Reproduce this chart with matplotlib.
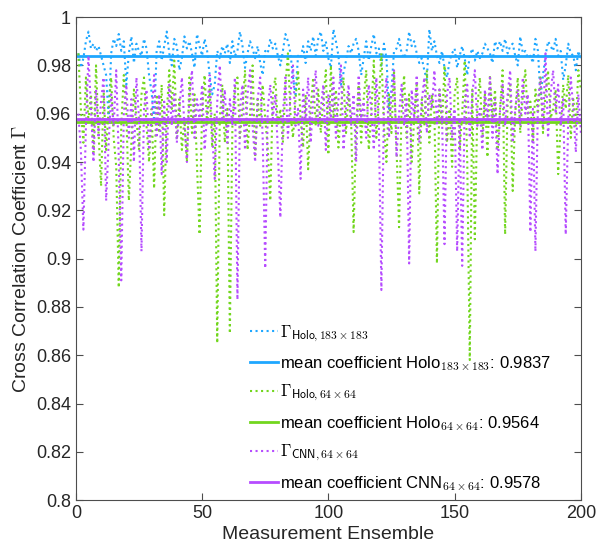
import matplotlib

matplotlib.use("Agg")
import matplotlib.pyplot as plt
import numpy as np
from matplotlib.ticker import FuncFormatter

plt.rcParams["font.family"] = ["Liberation Sans", "DejaVu Sans"]
plt.rcParams["mathtext.fontset"] = "cm"

holo_183 = [
    0.985, 0.979, 0.983, 0.990, 0.994, 0.987, 0.989, 0.986, 0.988, 0.984, 0.980, 0.976, 0.958, 0.985, 0.991, 0.988, 0.993, 0.986, 0.990, 0.972,
    0.985, 0.992, 0.981, 0.989, 0.986, 0.984, 0.991, 0.987, 0.976, 0.969, 0.957, 0.986, 0.990, 0.982, 0.988, 0.994, 0.985, 0.980, 0.991, 0.988,
    0.978, 0.983, 0.992, 0.987, 0.990, 0.985, 0.979, 0.993, 0.988, 0.984, 0.991, 0.986, 0.976, 0.968, 0.972, 0.986, 0.983, 0.988, 0.985, 0.989,
    0.981, 0.990, 0.984, 0.986, 0.994, 0.988, 0.979, 0.985, 0.990, 0.987, 0.983, 0.988, 0.981, 0.976, 0.986, 0.985, 0.991, 0.987, 0.989, 0.984,
    0.980, 0.986, 0.993, 0.990, 0.985, 0.975, 0.968, 0.984, 0.983, 0.988, 0.981, 0.990, 0.986, 0.992, 0.984, 0.991, 0.994, 0.986, 0.990, 0.983,
    0.979, 0.995, 0.990, 0.984, 0.972, 0.977, 0.982, 0.988, 0.985, 0.989, 0.991, 0.986, 0.976, 0.983, 0.990, 0.982, 0.988, 0.993, 0.985, 0.987,
    0.980, 0.989, 0.983, 0.962, 0.970, 0.986, 0.987, 0.991, 0.985, 0.983, 0.986, 0.994, 0.988, 0.990, 0.985, 0.981, 0.983, 0.978, 0.974, 0.995,
    0.986, 0.990, 0.984, 0.981, 0.986, 0.979, 0.975, 0.982, 0.985, 0.987, 0.979, 0.984, 0.988, 0.983, 0.976, 0.984, 0.987, 0.982, 0.986, 0.983,
    0.985, 0.989, 0.987, 0.985, 0.981, 0.990, 0.987, 0.990, 0.986, 0.991, 0.985, 0.988, 0.989, 0.984, 0.980, 0.992, 0.985, 0.986, 0.983, 0.984,
    0.981, 0.991, 0.986, 0.967, 0.976, 0.984, 0.990, 0.988, 0.986, 0.991, 0.984, 0.986, 0.974, 0.980, 0.989, 0.985, 0.984, 0.978, 0.986, 0.983,
]
holo_64 = [
    0.985, 0.962, 0.948, 0.975, 0.957, 0.968, 0.944, 0.980, 0.952, 0.930, 0.970, 0.945, 0.962, 0.975, 0.950, 0.938, 0.888, 0.955, 0.976, 0.960,
    0.924, 0.948, 0.970, 0.958, 0.945, 0.968, 0.975, 0.955, 0.940, 0.962, 0.929, 0.968, 0.952, 0.972, 0.918, 0.960, 0.978, 0.962, 0.982, 0.950,
    0.966, 0.945, 0.958, 0.940, 0.975, 0.952, 0.968, 0.938, 0.910, 0.962, 0.976, 0.955, 0.970, 0.946, 0.960, 0.865, 0.958, 0.972, 0.948, 0.962,
    0.869, 0.955, 0.970, 0.975, 0.950, 0.963, 0.978, 0.945, 0.960, 0.980, 0.942, 0.966, 0.955, 0.972, 0.958, 0.946, 0.924, 0.968, 0.975, 0.955,
    0.962, 0.948, 0.972, 0.985, 0.960, 0.950, 0.966, 0.978, 0.958, 0.946, 0.968, 0.937, 0.962, 0.975, 0.955, 0.970, 0.952, 0.966, 0.978, 0.943,
    0.980, 0.958, 0.970, 0.946, 0.962, 0.975, 0.952, 0.968, 0.958, 0.911, 0.955, 0.972, 0.948, 0.966, 0.978, 0.945, 0.960, 0.982, 0.950, 0.965,
    0.985, 0.955, 0.940, 0.968, 0.952, 0.978, 0.945, 0.913, 0.962, 0.976, 0.950, 0.968, 0.940, 0.958, 0.972, 0.927, 0.966, 0.955, 0.978, 0.948,
    0.968, 0.960, 0.898, 0.970, 0.955, 0.980, 0.948, 0.962, 0.938, 0.968, 0.975, 0.945, 0.960, 0.982, 0.940, 0.858, 0.970, 0.908, 0.962, 0.975,
    0.950, 0.968, 0.942, 0.976, 0.958, 0.970, 0.945, 0.962, 0.978, 0.910, 0.966, 0.972, 0.928, 0.960, 0.975, 0.952, 0.968, 0.978, 0.958, 0.965,
    0.948, 0.970, 0.960, 0.975, 0.952, 0.968, 0.978, 0.958, 0.962, 0.970, 0.935, 0.955, 0.972, 0.962, 0.976, 0.950, 0.966, 0.955, 0.978, 0.970,
]
cnn_64 = [
    0.960, 0.945, 0.912, 0.955, 0.984, 0.962, 0.940, 0.970, 0.950, 0.965, 0.975, 0.924, 0.948, 0.968, 0.955, 0.978, 0.942, 0.891, 0.960, 0.972,
    0.950, 0.966, 0.940, 0.975, 0.958, 0.903, 0.962, 0.970, 0.945, 0.958, 0.976, 0.950, 0.968, 0.935, 0.965, 0.940, 0.972, 0.955, 0.968, 0.948,
    0.962, 0.975, 0.955, 0.940, 0.968, 0.978, 0.950, 0.966, 0.958, 0.972, 0.945, 0.960, 0.976, 0.952, 0.933, 0.965, 0.980, 0.958, 0.970, 0.948,
    0.966, 0.955, 0.975, 0.883, 0.962, 0.972, 0.945, 0.968, 0.978, 0.955, 0.940, 0.966, 0.975, 0.950, 0.896, 0.962, 0.972, 0.958, 0.968, 0.945,
    0.917, 0.960, 0.975, 0.950, 0.968, 0.980, 0.955, 0.962, 0.933, 0.970, 0.958, 0.975, 0.948, 0.966, 0.978, 0.955, 0.962, 0.972, 0.945, 0.968,
    0.958, 0.975, 0.950, 0.966, 0.980, 0.945, 0.962, 0.972, 0.955, 0.968, 0.940, 0.976, 0.958, 0.965, 0.950, 0.972, 0.962, 0.945, 0.975, 0.955,
    0.887, 0.962, 0.975, 0.950, 0.968, 0.978, 0.942, 0.960, 0.972, 0.955, 0.966, 0.898, 0.970, 0.958, 0.976, 0.948, 0.965, 0.975, 0.952, 0.968,
    0.962, 0.978, 0.955, 0.970, 0.960, 0.906, 0.968, 0.975, 0.950, 0.962, 0.903, 0.958, 0.897, 0.965, 0.972, 0.950, 0.968, 0.978, 0.955, 0.962,
    0.945, 0.970, 0.958, 0.975, 0.950, 0.966, 0.935, 0.962, 0.972, 0.955, 0.968, 0.978, 0.948, 0.962, 0.970, 0.955, 0.975, 0.960, 0.968, 0.911,
    0.962, 0.903, 0.965, 0.975, 0.955, 0.985, 0.950, 0.968, 0.978, 0.960, 0.972, 0.955, 0.966, 0.910, 0.958, 0.975, 0.962, 0.944, 0.968, 0.952,
]
mean_holo_183 = 0.9837
mean_holo_64 = 0.9564
mean_cnn_64 = 0.9578

ensemble = np.arange(1, len(holo_183) + 1)

C_BLUE = "#1ea7ff"
C_GREEN = "#72d61e"
C_PURPLE = "#b64cff"

fig = plt.figure(figsize=(5.97, 5.52), dpi=100)
ax = fig.add_axes([0.127, 0.094, 0.846, 0.875])

series = [
    (holo_183, mean_holo_183, C_BLUE, r"\mathsf{Holo,183\times183}", r"Holo$_{\mathsf{183\times183}}$"),
    (holo_64, mean_holo_64, C_GREEN, r"\mathsf{Holo,64\times64}", r"Holo$_{\mathsf{64\times64}}$"),
    (cnn_64, mean_cnn_64, C_PURPLE, r"\mathsf{CNN,64\times64}", r"CNN$_{\mathsf{64\times64}}$"),
]
for vals, mean, color, sub, name in series:
    ax.plot(ensemble, vals, ls=":", lw=1.5, color=color, label=rf"$\Gamma_{{{sub}}}$")
    ax.axhline(mean, color=color, lw=2, label=f"mean coefficient {name}: {mean:.4f}")

ax.set_xlim(0, 200)
ax.set_ylim(0.8, 1.0)
ax.set_xticks(np.arange(0, 201, 50))
ax.set_yticks(np.arange(0.8, 1.001, 0.02))
ax.yaxis.set_major_formatter(FuncFormatter(lambda v, _: f"{v:.2f}".rstrip("0").rstrip(".")))
ax.tick_params(direction="in", top=True, right=True, labelsize=13, colors="#4d4d4d",
               labelcolor="#262626", length=5, width=0.8)
for s in ax.spines.values():
    s.set_color("#4d4d4d")
    s.set_linewidth(0.8)

ax.set_xlabel("Measurement Ensemble", fontsize=14, color="#262626", labelpad=3)
ax.set_ylabel(r"Cross Correlation Coefficient $\Gamma$", fontsize=14, color="#262626", labelpad=4)

ax.legend(loc="lower left", bbox_to_anchor=(0.325, -0.005), frameon=False, fontsize=12,
          handlelength=1.7, handletextpad=0.12, labelspacing=0.62, borderaxespad=0.2)

fig.savefig("out.png", dpi=100)
